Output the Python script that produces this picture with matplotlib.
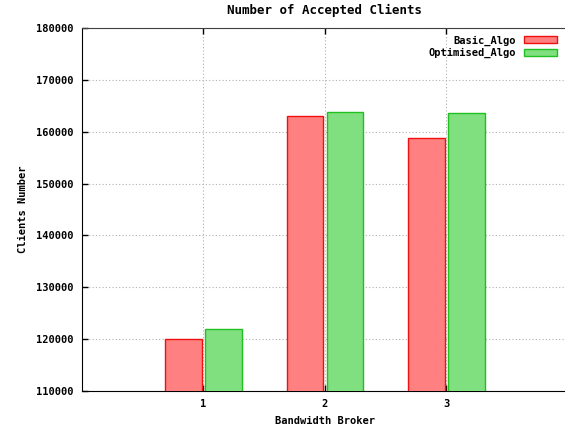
import numpy as np
import matplotlib
matplotlib.use("Agg")
import matplotlib.pyplot as plt

brokers = [1, 2, 3]
basic_algo = [120000, 163000, 158750]
optimised_algo = [121930, 163850, 163660]

plt.rcParams["font.family"] = "DejaVu Sans Mono"
plt.rcParams["font.weight"] = "bold"
plt.rcParams["axes.titleweight"] = "bold"
plt.rcParams["axes.labelweight"] = "bold"
plt.rcParams["font.size"] = 7.5

fig = plt.figure(figsize=(5.65, 4.3), dpi=100)
ax = fig.add_axes([0.1451, 0.0907, 0.86, 0.8442])

x = np.array(brokers)
w = 0.3
ax.bar(x - 0.165, basic_algo, w, color="#ff8080", edgecolor="#f01010",
       linewidth=1.0, label="Basic_Algo", zorder=3)
ax.bar(x + 0.165, optimised_algo, w, color="#80e080", edgecolor="#20c020",
       linewidth=1.0, label="Optimised_Algo", zorder=3)

ax.set_xlim(0, 4)
ax.set_ylim(110000, 180000)
ax.set_xticks(brokers)
ax.set_yticks(np.arange(110000, 180001, 10000))
ax.tick_params(direction="in", length=4, width=1, top=True, right=False, pad=6)
ax.grid(True, color="#b0b0b0", linestyle=(0, (1, 2)), linewidth=0.8, zorder=0)

for s in ["left", "bottom"]:
    ax.spines[s].set_color("black")
ax.spines["top"].set_color("#404040")
ax.spines["right"].set_visible(False)

ax.set_title("Number of Accepted Clients", pad=10)
ax.set_xlabel("Bandwidth Broker", labelpad=5)
ax.set_ylabel("Clients Number", labelpad=6)

ax.legend(loc="upper right", frameon=False, markerfirst=False, handlelength=3.2,
          handleheight=0.7, labelspacing=0.25, borderaxespad=0.3,
          bbox_to_anchor=(0.993, 1.0))

fig.savefig("out.png", dpi=100)
